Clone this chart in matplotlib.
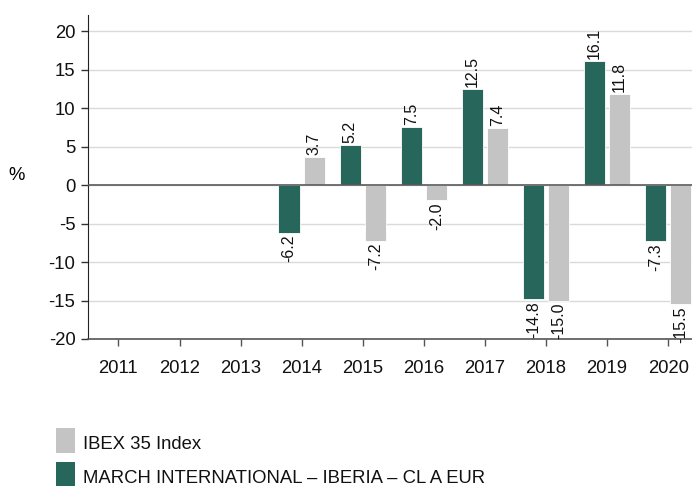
import matplotlib
matplotlib.use("Agg")
import matplotlib.pyplot as plt
from matplotlib.patches import Rectangle
import numpy as np

years = ["2011", "2012", "2013", "2014", "2015", "2016", "2017", "2018", "2019", "2020"]
fund_name = "MARCH INTERNATIONAL – IBERIA – CL A EUR"
index_name = "IBEX 35 Index"
fund = [None, None, None, -6.2, 5.2, 7.5, 12.5, -14.8, 16.1, -7.3]
index = [None, None, None, 3.7, -7.2, -2.0, 7.4, -15.0, 11.8, -15.5]
yticks = [-20, -15, -10, -5, 0, 5, 10, 15, 20]

plt.rcParams['font.family'] = ['Liberation Sans', 'DejaVu Sans']

GREEN = "#27665A"
GRAY = "#C4C4C4"

W, H = 692, 486
fig = plt.figure(figsize=(W / 100, H / 100), dpi=100)
ax = fig.add_axes([0.127, 0.3025, 0.873, 0.6665])

x = np.arange(len(years))
fv = np.array([np.nan if v is None else v for v in fund], dtype=float)
iv = np.array([np.nan if v is None else v for v in index], dtype=float)
off = 0.205
w = 0.35
b1 = ax.bar(x - off, fv, width=w, color=GREEN, edgecolor="white", linewidth=0.6, zorder=3, label=fund_name)
b2 = ax.bar(x + off, iv, width=w, color=GRAY, edgecolor="white", linewidth=0.6, zorder=3, label=index_name)

for xs, vals in ((x - off, fv), (x + off, iv)):
    for xi, v in zip(xs, vals):
        if np.isnan(v):
            continue
        if v >= 0:
            ax.annotate(f"{v:.1f}", (xi, v), xytext=(0, 1.5), textcoords="offset points",
                        rotation=90, ha="center", va="bottom", fontsize=11.5, color="#111111")
        else:
            ax.annotate(f"{v:.1f}", (xi, v), xytext=(0, -1.5), textcoords="offset points",
                        rotation=90, ha="center", va="top", fontsize=11.5, color="#111111")

ax.set_xlim(-0.5, 9.39)
ax.set_ylim(-20, 22.1)
ax.set_yticks(yticks)
ax.set_yticklabels([str(t) for t in yticks])
ax.set_xticks(x)
ax.set_xticklabels(years)
ax.tick_params(axis="both", labelsize=13.3, colors="#111111")
ax.tick_params(axis="y", length=5, width=1, color="#333333", pad=4)
ax.tick_params(axis="x", length=5, width=1, color="#555555", direction="out", pad=10)
ax.grid(axis="y", color="#DADADA", linewidth=1, zorder=0)
ax.axhline(0, color="#5A5A5A", linewidth=1.2, zorder=4)
for s in ("top", "right"):
    ax.spines[s].set_visible(False)
ax.spines["left"].set_color("#222222")
ax.spines["bottom"].set_color("#555555")
ax.spines["bottom"].set_linewidth(1.2)

fig.text(17 / W, 1 - 175 / H, "%", fontsize=13.3, ha="center", va="center")

# legend drawn manually in figure pixels
legend_items = [(index_name, GRAY, 428), (fund_name, GREEN, 462)]
for label, col, ytop in legend_items:
    fig.patches.append(Rectangle((56 / W, 1 - (ytop + 25) / H), 19 / W, 25 / H,
                                 transform=fig.transFigure, facecolor=col, edgecolor="none"))
    fig.text(83 / W, 1 - (ytop + 16.5) / H, label, fontsize=13.3, ha="left", va="center", color="#111111")

fig.savefig("out.png", dpi=100)
